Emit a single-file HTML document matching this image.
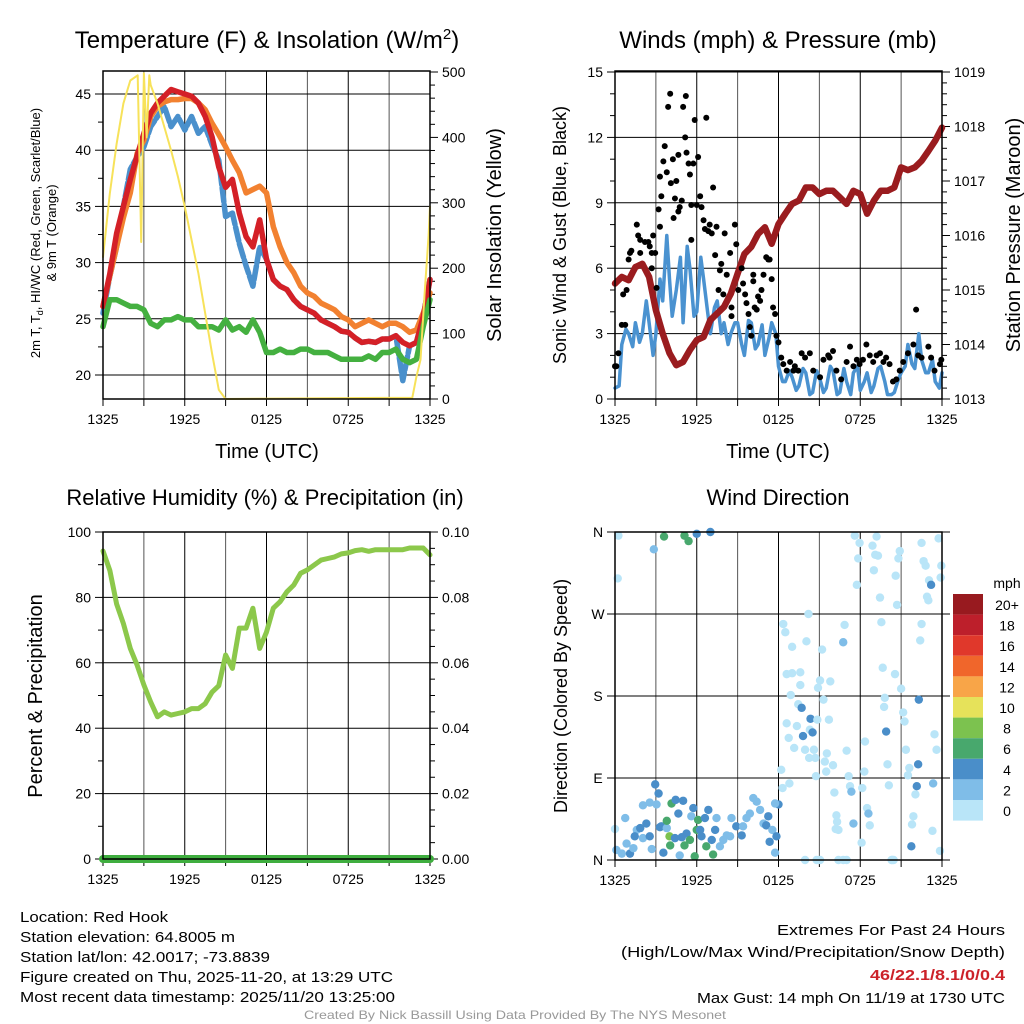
<!DOCTYPE html>
<html><head><meta charset="utf-8"><style>
html,body{margin:0;padding:0;background:#fff}
svg{display:block;font-family:"Liberation Sans",sans-serif}
</style></head><body>
<svg id="s" width="1024" height="1024" xmlns="http://www.w3.org/2000/svg"></svg>
<script>
// ---------- DATA ----------
var hours = [0,0.5,1,1.5,2,2.5,3,3.5,4,4.5,5,5.5,6,6.5,7,7.5,8,8.5,9,9.5,10,10.5,11,11.5,12,12.5,13,13.5,14,14.5,15,15.5,16,16.5,17,17.5,18,18.5,19,19.5,20,20.5,21,21.5,22,22.5,23,23.5,24];
var tempRed = [26.1,29,32.6,35,37.4,39.5,41.5,43.3,44.2,44.8,45.4,45.2,45,44.8,44.2,43,41.2,38.5,36.7,37.4,34.4,32.3,31.4,33.8,30.3,28.5,27.9,27.6,26.7,26.1,25.8,25.5,24.9,24.6,24.3,23.9,23.8,23.3,22.9,23,22.9,23.2,23.2,23.5,22.9,22.6,22.9,25.2,28.5];
var temp9m = [26.1,28.8,31.4,34,36.2,39.7,40.9,43,43.9,44.3,44.5,44.5,44.6,44.6,44.2,43.6,42.4,41.4,40.3,39.1,38,36.2,36.5,36.8,36.2,33.2,31.4,30,29.1,27.9,27.3,27,26.4,26.1,25.8,25.2,24.9,24.3,24.6,24.9,24.6,24.3,24.6,24.6,24.3,23.8,24,25.5,27.3];
var tempHI = [25.5,28.8,31.4,35,38.3,39.4,40.3,42.1,43,43.9,42.1,43,41.8,43,41.5,42.1,40.5,39.1,34.1,34.4,31.7,29.7,27.9,31.4,30.3,28.5,27.9,27.6,26.7,26.1,25.8,25.5,24.9,24.6,24.3,23.9,23.8,23.3,22.9,23,22.9,23.2,23.2,23.5,19.5,22.6,22.9,25.2,28.5];
var dewpt = [24.3,26.7,26.7,26.4,26.1,26.1,25.8,24.6,24.3,24.9,24.9,25.2,24.9,24.9,24.3,24.3,24.3,24,24.9,24,24.3,23.8,24.9,23.8,22,22,22.3,22,22,22.3,22.3,22,22,22,21.7,21.4,21.4,21.4,21.4,21.7,21.4,22,22,22.3,21.4,21.1,21.4,24.3,26.7];
var solarT = [0,0.5,1,1.5,2,2.55,2.8,3.0,3.2,3.4,3.5,4,4.5,5,5.5,6,6.5,7,7.5,8,8.5,9,22.7,23,23.3,23.6,23.9,24];
var solarW = [217,314,390,452,487,495,240,498,400,495,480,452,416,380,340,294,243,192,131,70,14,0,2,34,60,161,250,294];
var windT = [0,0.3,0.5,0.8,1,1.3,1.5,1.8,2,2.3,2.5,2.8,3,3.3,3.5,3.8,4,4.2,4.5,4.8,5,5.3,5.5,5.8,6,6.3,6.5,6.8,7,7.3,7.5,7.8,8,8.3,8.5,8.8,9,9.3,9.5,9.8,10,10.3,10.5,10.8,11,11.3,11.5,11.8,12,12.3,12.5,12.8,13,13.3,13.5,13.8,14,14.3,14.5,14.8,15,15.3,15.5,15.8,16,16.3,16.5,16.8,17,17.3,17.5,17.8,18,18.3,18.5,18.8,19,19.3,19.5,19.8,20,20.3,20.5,20.8,21,21.3,21.5,21.8,22,22.3,22.5,22.8,23,23.3,23.5,23.8,24];
var windV = [0.5,0.6,2.5,3.2,3,2.4,3.5,2.6,3,4.5,3.5,2,3,5.5,4.5,7.5,5.5,3.8,5,6.5,3.5,7,6,3.8,4,6.5,5.5,4,3,4.2,4.5,3,3.5,2.5,3,3.5,3.5,2.5,2,3.6,3.5,2.3,2.5,3.4,2,2.8,3.5,3,1.5,0.8,0.8,1.3,1,0.4,0.6,1.4,1.2,0.2,0.3,1.3,1,0.3,0.5,1.5,1.3,0.2,0.3,1.4,0.8,0.2,1.2,1.5,0.4,0.8,1.2,0.3,0.6,1.4,1.5,0.8,0.2,0.2,0.3,0.9,1.2,1.5,2.5,1.6,1.4,3,1.8,1.2,1.2,1.8,0.8,0.5,1.2];
var gustT = [0,0.1,0.25,0.5,0.75,0.6,0.85,1,1.1,1.2,1.6,1.85,1.7,1.85,2.2,2.45,2.55,2.7,2.8,2.7,2.95,3.05,3.2,3.3,3.4,3.55,3.65,3.3,3.8,3.9,4.05,4.1,4.25,4.3,4.4,4.5,4.65,4.65,4.75,4.9,5,5.15,5.2,5.25,5.4,5.5,5.6,5.6,5.75,5.85,6,6.1,6.25,6.35,6.5,6.6,6.7,6.85,6.95,7.1,7.2,7.35,7.45,7.6,7.7,7.8,7.95,8.05,8.2,8.45,8.55,8.55,8.8,8.9,9.05,9.3,9.4,9.55,9.65,9.8,9.9,10,10.15,10.15,10.25,10.4,10.5,10.65,10.75,10.9,11.1,11.25,11.35,11.5,11.6,11.75,11.85,12,12.2,12.35,12.6,12.85,13.1,13.2,13.45,13.7,13.95,14.3,14.55,15.05,15.3,15.65,15.75,16,16.25,16.6,17,17.25,17.5,17.75,17.95,18.2,18.45,18.7,18.95,19.2,19.45,19.7,19.9,20.15,20.4,20.65,20.9,21.15,21.5,21.9,22.1,22.25,22.5,23,23.2,23.45,23.85,23.95];
var gustV = [1.5,1.5,2.1,3.4,3.4,4.8,5,6.4,6.7,6.8,8,7.3,7.5,6.7,7.2,7.2,7,6.7,7.5,6,6.7,5.1,8.7,7.9,9.3,10.9,11.6,10.2,10.4,13.4,14,9.9,11,8.3,9.2,10,11.2,8.6,8.8,9.1,13.4,12,13.9,11.3,10.8,10.3,8.9,7.3,10.8,12.8,8.9,11.1,9.3,8.8,8.2,7.8,12.9,7.7,8,7.6,9.7,6.6,7.9,5,5.9,6.2,4.8,7.6,5.7,6.7,4.2,3.8,8,7.1,5,6,5.3,4.8,4.4,3.9,3.3,2.9,5.7,5.4,4.2,4.1,4.7,4.5,5,5.7,6.5,6.4,6.4,5.5,4.2,3.9,2.9,2.6,1.9,1.6,1.3,1.7,1.3,1.5,1.3,2.1,1.9,2.1,1.3,1,1.8,2,1.9,2.2,1.3,0.9,1.7,2.4,1.5,1.8,1.6,1.8,2.5,2,1.7,2,2.1,1.7,1.9,1.6,0.8,0.9,1.3,1.7,2.1,2.5,4.1,2,1.9,2.4,1.9,1.3,1.6,1.8];
var presT = hours;
var presMb = [1015.12,1015.24,1015.18,1015.42,1015.48,1015.24,1014.63,1014.2,1013.84,1013.62,1013.68,1013.9,1014.08,1014.14,1014.45,1014.57,1014.69,1014.93,1015.3,1015.66,1015.79,1016.03,1016.15,1015.85,1016.21,1016.4,1016.58,1016.64,1016.88,1016.88,1016.76,1016.82,1016.82,1016.7,1016.58,1016.82,1016.76,1016.4,1016.64,1016.82,1016.82,1016.88,1017.25,1017.2,1017.25,1017.37,1017.55,1017.74,1017.98];
var rhPct = [94.2,88.3,78,72,64.4,59.3,53.2,48,43.5,45,44,44.5,45,46,46,47.5,51,53,62.4,58.3,70.6,70.6,76.7,64.4,69.4,76.7,78.7,81.7,83.8,87.4,88.4,89.9,91.4,91.9,92.4,93.3,93.6,94.3,94.6,94.1,94.6,94.6,94.6,94.6,94.6,95.1,95.1,95.1,93];
var precipIn = [0,0,0,0,0,0,0,0,0,0,0,0,0,0,0,0,0,0,0,0,0,0,0,0,0,0,0,0,0,0,0,0,0,0,0,0,0,0,0,0,0,0,0,0,0,0,0,0,0];
var dirT = [0.25,0.2,2.85,3.6,5.1,5.4,6,7,0,0.1,0.5,0.85,0.75,1.1,1.35,1.6,1.45,1.85,2.05,2.3,2.05,2.55,2.55,2.7,3.05,2.95,3.2,3.3,3.4,3.55,3.8,3.8,4,4.05,4.15,4.4,4.45,4.65,4.75,4.9,5,5.1,5.25,5.5,5.6,5.75,5.85,6,6.1,6.25,6.35,6.6,6.7,6.85,7.1,7.2,7.35,7.45,7.7,7.95,8.2,8.45,8.55,8.9,9.3,9.4,9.65,9.9,10.15,10.4,10.65,10.9,11.1,11.25,11.35,11.55,11.75,11.85,12,11.75,12.2,12.3,12.35,12.5,12.8,12.9,13,12.6,13,12.6,12.75,13.15,13.35,13.45,13.6,13.6,13.7,13.8,13.95,14.05,14.2,14.25,14.3,14.35,14.5,14.6,14.7,14.75,14.85,14.9,15.05,15.2,15.3,15.4,15.5,15.55,15.7,15.8,16,16.1,16.25,16.3,16.4,16.2,16.75,16.85,17,17.15,17.25,17.35,17.5,17.6,17.75,17.85,17.95,18.1,18.15,18.3,18.35,18.5,18.6,18.7,18.9,19,19.1,19.2,19.3,19.45,19.55,19.65,19.75,19.8,19.9,20,20.1,20.3,20.45,20.55,20.6,20.7,20.8,20.9,21,21.15,21.25,21.35,21.5,21.6,21.75,21.8,21.9,22.05,22.15,22.25,22.3,22.4,22.5,22.5,22.65,22.8,22.9,23.05,23,23.2,23.35,23.3,23.45,23.6,23.75,23.85,23.9,23.95,13.95,14.8,15.05,16.4,16.75,17,20.35];
var dirDeg = [356,309,341,355,356,350,358,360,34,11,7,18,46,7,13,33,26,35,24,40,60,26,63,12,61,83,73,36,37,8,35,43,26,16,62,24,66,51,5,25,65,16,29,22,48,57,4,33,44,33,26,46,15,55,22,6,33,46,15,22,27,26,46,37,27,37,46,51,68,64,55,40,38,48,20,33,8,26,61,62,99,79,259,250,84,181,234,204,205,150,134,123,147,171,206,192,167,136,121,240,270,112,143,155,140,121,112,92,154,189,197,231,176,108,97,117,154,196,104,74,49,42,33,34,239,258,120,92,81,75,40,356,302,331,348,19,79,97,130,57,51,38,345,318,335,355,334,288,261,211,168,178,141,105,82,0,0,204,312,280,331,339,188,162,152,121,93,101,15,39,48,72,81,105,176,241,259,348,328,323,289,307,285,302,84,32,138,121,353,10,310,323,0,0,0,0,0,0,0];
var dirSpd = [1,1,3,7,7,7,5,5,1,2,2,3,3,4,3,3,4,4,3,4,3,4,3,3,3,5,5,4,5,5,3,7,8,7,7,5,5,5,2,4,5,7,4,7,3,5,7,7,7,4,5,5,7,5,5,7,4,3,3,3,3,3,3,5,5,3,3,3,3,3,3,3,5,5,5,3,3,4,4,2,1,1,1,1,1,1,1,1,1,1,1,1,1,1,1,1,4,4,1,1,1,1,1,4,4,1,1,1,1,1,1,1,1,1,1,1,1,1,1,1,1,1,1,1,3,1,1,1,1,3,3,1,1,1,1,1,1,1,1,1,3,1,1,1,1,1,1,1,1,1,1,1,4,1,1,1,1,1,1,1,1,1,1,1,1,1,1,1,4,1,1,1,4,4,4,1,1,1,1,1,1,1,1,4,3,1,1,1,1,1,1,1,1,1,1,1,1,1,1,1,1];
var cbLabels = ["20+","18","16","14","12","10","8","6","4","2","0"];
var cbColors = ["#981a1f","#bd1f2b","#e0382b","#f0662b","#f8a548","#e6e25a","#7cc24f","#48a86d","#4a8ec9","#7fbde8","#b9e5f8"];
var timeLabels = ["1325","1925","0125","0725","1325"];
// ---------- HELPERS ----------
var S=document.getElementById('s'),NS='http://www.w3.org/2000/svg';
function mk(tag,at,parent){var e=document.createElementNS(NS,tag);for(var k in at)e.setAttribute(k,at[k]);(parent||S).appendChild(e);return e;}
function txt(x,y,s,size,anchor,extra){var e=mk('text',{x:x,y:y,'font-size':size,'text-anchor':anchor||'middle',fill:'#000'});if(extra)for(var k in extra)e.setAttribute(k,extra[k]);e.textContent=s;return e;}
function lin(x0,x1,y0,y1,v0,v1){return function(v){return y0+(v-v0)*(y1-y0)/(v1-v0);};}
function path(xs,ys,fx,fy){var d='';for(var i=0;i<xs.length;i++)d+=(i?'L':'M')+fx(xs[i]).toFixed(1)+' '+fy(ys[i]).toFixed(1);return d;}
function frame(g,x0,x1,y0,y1,fx){
  for(var h=0;h<=24;h+=3){var x=fx(h);mk('line',{x1:x,x2:x,y1:y0,y2:y1,stroke:(h%6?'#555':'#000'),'stroke-width':1},g);mk('line',{x1:x,x2:x,y1:y1,y2:y1+7,stroke:'#000'},g);}
  for(var i=0;i<timeLabels.length;i++){var t=txt(fx(i*6),y1+25,timeLabels[i],14);
    
    }
}
function yaxis(g,x,side,y0,y1,fy,maj,minStep,lo,hi,fmt,gridX1){
  for(var v=lo;v<=hi+1e-9;v+=minStep){var y=fy(v);if(y<y0-0.5||y>y1+0.5)continue;var isMaj=Math.abs(v/maj-Math.round(v/maj))<1e-6;var L=isMaj?8:5;mk('line',{x1:x,x2:x+side*L,y1:y,y2:y,stroke:'#000'},g);
    if(isMaj&&fmt){var t=txt(x+side*12,y+5,fmt(v),14,side<0?'end':'start');
      if(gridX1!==undefined)mk('line',{x1:x,x2:gridX1,y1:y,y2:y,stroke:'#000'},g);}}
}
// ---------- PANEL 1 ----------
(function(){
 var g=mk('g',{});
 var X0=103,X1=430,Y0=71,Y1=399;
 var fx=lin(0,0,X0,X1,0,24),fy=lin(0,0,375,94,20,45),fw=lin(0,0,399,72,0,500);
 frame(g,X0,X1,Y0,Y1,fx);
 yaxis(g,X0,-1,Y0,Y1,fy,5,2.5,17.5,47.5,function(v){return v;},X1);
 yaxis(g,X1,1,Y0,Y1,fw,100,20,0,500,function(v){return v;});
 var c=mk('g',{'stroke-linejoin':'round','stroke-linecap':'round',fill:'none'},g);
 var p;
 p=mk('path',{d:path(hours,tempHI,fx,fy),stroke:'#4a90cc','stroke-width':5.5,'stroke-dasharray':'14 3'},c);
 p=mk('path',{d:path(hours,temp9m,fx,fy),stroke:'#f28130','stroke-width':5.5},c);
 p=mk('path',{d:path(hours,tempRed,fx,fy),stroke:'#d42027','stroke-width':5.5},c);
 p=mk('path',{d:path(hours,dewpt,fx,fy),stroke:'#44b040','stroke-width':5.5},c);
 p=mk('path',{d:path(solarT,solarW,fx,fw),stroke:'#f7e25a','stroke-width':2},c);
 mk('rect',{x:X0,y:Y0,width:X1-X0,height:Y1-Y0,fill:'none',stroke:'#000','stroke-width':1.5},g);
 var t=txt(267,48,'',24);
 t.innerHTML='Temperature (F) &amp; Insolation (W/m<tspan dy="-9" font-size="15">2</tspan><tspan dy="9">)</tspan>';
 t=txt(0,0,'',13,'middle',{transform:'translate(40,233) rotate(-90)'});
 t.innerHTML='2m T, T<tspan font-size="9" dy="3">d</tspan><tspan dy="-3">, HI/WC (Red, Green, Scarlet/Blue)</tspan>';
 t=txt(0,0,'& 9m T (Orange)',13,'middle',{transform:'translate(56,233) rotate(-90)'});
 t=txt(0,0,'Solar Insolation (Yellow)',20,'middle',{transform:'translate(501,235) rotate(-90)'});
 t=txt(267,458,'Time (UTC)',20);
})();
// ---------- PANEL 2 ----------
(function(){
 var g=mk('g',{});
 var X0=615,X1=942,Y0=71,Y1=399;
 var fx=lin(0,0,X0,X1,0,24),fy=lin(0,0,399,72,0,15),fp=lin(0,0,399,72,1013,1019);
 frame(g,X0,X1,Y0,Y1,fx);
 yaxis(g,X0,-1,Y0,Y1,fy,3,1,0,15,function(v){return v;},X1);
 yaxis(g,X1,1,Y0,Y1,fp,1,0.2,1013,1019,function(v){return Math.round(v);});
 var c=mk('g',{'stroke-linejoin':'round','stroke-linecap':'round',fill:'none'},g);
 var p=mk('path',{d:path(windT,windV,fx,fy),stroke:'#4a92d0','stroke-width':3.5},c);
 for(var i=0;i<gustT.length;i++){var d=mk('circle',{cx:fx(gustT[i]),cy:fy(gustV[i]),r:3,fill:'#000'},g);
  
  }
 p=mk('path',{d:path(presT,presMb,fx,fp),stroke:'#9a1c1f','stroke-width':6.5},c);
 mk('rect',{x:X0,y:Y0,width:X1-X0,height:Y1-Y0,fill:'none',stroke:'#000','stroke-width':1.5},g);
 var t=txt(778,48,'Winds (mph) & Pressure (mb)',24);
 t=txt(0,0,'Sonic Wind & Gust (Blue, Black)',18,'middle',{transform:'translate(566,235) rotate(-90)'});
 t=txt(0,0,'Station Pressure (Maroon)',20,'middle',{transform:'translate(1020,235) rotate(-90)'});
 t=txt(778,458,'Time (UTC)',20);
})();
// ---------- PANEL 3 ----------
(function(){
 var g=mk('g',{});
 var X0=103,X1=430,Y0=532,Y1=859;
 var fx=lin(0,0,X0,X1,0,24),fy=lin(0,0,859,532,0,100),fr=lin(0,0,859,532,0,0.1);
 frame(g,X0,X1,Y0,Y1,fx);
 yaxis(g,X0,-1,Y0,Y1,fy,20,10,0,100,function(v){return v;},X1);
 yaxis(g,X1,1,Y0,Y1,fr,0.02,0.005,0,0.1,function(v){return v.toFixed(2);});
 var c=mk('g',{'stroke-linejoin':'round','stroke-linecap':'round',fill:'none'},g);
 var p=mk('path',{d:path(hours,rhPct,fx,fy),stroke:'#8cc84b','stroke-width':5},c);
 p=mk('path',{d:path(hours,precipIn,fx,fr),stroke:'#3fae3f','stroke-width':8},c);
 mk('rect',{x:X0,y:Y0,width:X1-X0,height:Y1-Y0,fill:'none',stroke:'#000','stroke-width':1.5},g);
 var t=txt(265,505,'Relative Humidity (%) & Precipitation (in)',22);
 t=txt(0,0,'Percent & Precipitation',20,'middle',{transform:'translate(42,696) rotate(-90)'});
})();
// ---------- PANEL 4 ----------
(function(){
 var g=mk('g',{});
 var X0=615,X1=942,Y0=532,Y1=860;
 var fx=lin(0,0,X0,X1,0,24),fy=lin(0,0,860,532,0,360);
 frame(g,X0,X1,Y0,Y1,fx);
 var dl=['N','E','S','W','N'];
 for(var i=0;i<5;i++){var y=fy(i*90);mk('line',{x1:X0-8,x2:X1,y1:y,y2:y,stroke:'#000'},g);mk('line',{x1:X1,x2:X1+8,y1:y,y2:y,stroke:'#000'},g);var t=txt(598,y+5,dl[i],14,'middle');}
 for(var i=0;i<dirT.length;i++){var k=Math.min(10,Math.floor(dirSpd[i]/2));var d=mk('circle',{cx:fx(dirT[i]),cy:fy(dirDeg[i]),r:4.2,fill:cbColors[10-k]},g);
  
  }
 mk('rect',{x:X0,y:Y0,width:X1-X0,height:Y1-Y0,fill:'none',stroke:'#000','stroke-width':1.5},g);
 var t=txt(778,505,'Wind Direction',22);
 t=txt(0,0,'Direction (Colored By Speed)',18,'middle',{transform:'translate(567,696) rotate(-90)'});
 var cb=mk('g',{},S);
 t=txt(1007,588,'mph',14,'middle');
 for(var i=0;i<cbColors.length;i++){var y=594+i*20.6;mk('rect',{x:953,y:y,width:30,height:20.6,fill:cbColors[i]},cb);var l=txt(1007,y+16,cbLabels[i],14,'middle');}
})();
// ---------- FOOTER ----------
var L=[['Location: Red Hook',148],['Station elevation: 64.8005 m',215],['Station lat/lon: 42.0017; -73.8839',250],['Figure created on Thu, 2025-11-20, at 13:29 UTC',373],['Most recent data timestamp: 2025/11/20 13:25:00',375]];
for(var i=0;i<L.length;i++){var t=txt(20,922+i*20,L[i][0],15,'start',{textLength:L[i][1],lengthAdjust:'spacingAndGlyphs'});}
var t=txt(1005,935,'Extremes For Past 24 Hours',15,'end',{textLength:228,lengthAdjust:'spacingAndGlyphs'});
t=txt(1005,957,'(High/Low/Max Wind/Precipitation/Snow Depth)',15,'end',{textLength:384,lengthAdjust:'spacingAndGlyphs'});
t=txt(1005,980,'46/22.1/8.1/0/0.4',15,'end',{textLength:135,lengthAdjust:'spacingAndGlyphs',fill:'#cc2229','font-weight':'bold'});
t=txt(1005,1003,'Max Gust: 14 mph On 11/19 at 1730 UTC',15,'end',{textLength:308,lengthAdjust:'spacingAndGlyphs'});
t=txt(515,1019,'Created By Nick Bassill Using Data Provided By The NYS Mesonet',12,'middle',{textLength:422,lengthAdjust:'spacingAndGlyphs',fill:'#999'});
</script>
</body></html>
